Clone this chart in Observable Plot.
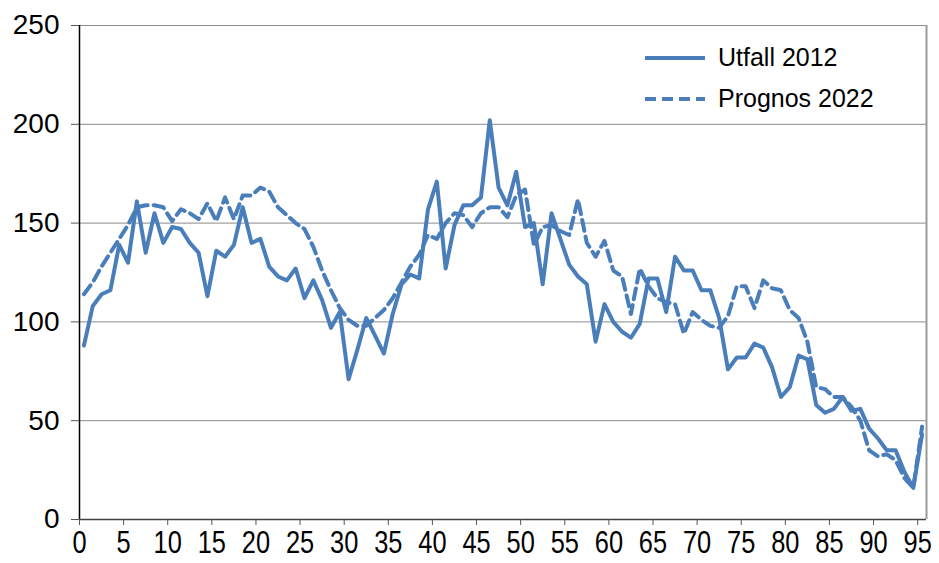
<!DOCTYPE html>
<html>
<head>
<meta charset="utf-8">
<script src="https://cdn.jsdelivr.net/npm/d3@7"></script>
<script src="https://cdn.jsdelivr.net/npm/@observablehq/plot@0.6"></script>
<style>
  body { margin: 0; background: #fff; }
  #wrap { position: relative; width: 939px; height: 563px; font-family: "Liberation Sans", Arial, sans-serif; }
  #legend { position: absolute; left: 645px; top: 37px; font-size: 25px; color: #000; }
  .item { display: flex; align-items: center; height: 41px; }
  .item svg { margin-right: 13px; }
</style>
</head>
<body>
<div id="wrap"><div id="chart"></div><div id="legend"></div></div>
<script>
const ages = [0,1,2,3,4,5,6,7,8,9,10,11,12,13,14,15,16,17,18,19,20,21,22,23,24,25,26,27,28,29,
  30,31,32,33,34,35,36,37,38,39,40,41,42,43,44,45,46,47,48,49,50,51,52,53,54,55,56,57,58,59,
  60,61,62,63,64,65,66,67,68,69,70,71,72,73,74,75,76,77,78,79,80,81,82,83,84,85,86,87,88,89,
  90,91,92,93,94,95];

const utfall2012 = [88,108,114,116,139,130,161,135,155,140,148,147,140,135,113,136,133,139,158,140,
  142,128,123,121,127,112,121,111,97,105,71,86,102,93,84,104,119,124,122,157,
  171,127,149,159,159,163,202,168,159,176,148,150,119,155,142,129,123,119,90,109,
  100,95,92,99,122,122,105,133,126,126,116,116,102,76,82,82,89,87,77,62,
  67,83,81,58,54,56,62,55,56,46,41,35,35,24,16,43];

const prognos2022 = [114,120,128,135,142,149,158,159,159,158,151,157,155,152,160,151,163,152,164,164,
  168,166,158,154,150,147,138,126,116,107,101,98,98,102,106,112,120,128,134,144,
  142,150,155,154,148,155,158,158,153,164,167,139,148,149,146,144,162,140,133,141,
  126,123,104,127,118,112,110,109,94,105,101,98,97,103,118,118,107,121,117,116,
  106,102,90,67,66,62,62,57,50,35,32,33,30,21,16,47];

const seriesNames = ["Utfall 2012", "Prognos 2022"];
const xTicks = [0,5,10,15,20,25,30,35,40,45,50,55,60,65,70,75,80,85,90,95];
const yTicks = [0,50,100,150,200,250];

const blue = "#4a7ebb";
const dash = "11,6";
// category-centred positions (Excel category axis: points sit mid-category)
const pos = (i) => ages[i] + 0.5;

const chart = Plot.plot({
  width: 939,
  height: 563,
  marginLeft: 79,
  marginRight: 13,
  marginTop: 25,
  marginBottom: 44,
  style: { fontFamily: "'Liberation Sans', Arial, sans-serif", background: "#fff", color: "#000" },
  x: { type: "linear", domain: [0, 96] },
  y: { domain: [0, 250] },
  marks: [
    Plot.gridY(yTicks, { stroke: "#8a8a8a", strokeOpacity: 1, strokeWidth: 1 }),
    Plot.ruleX([96], { stroke: "#9a9a9a", strokeWidth: 2 }),
    Plot.line(prognos2022, { x: (d, i) => pos(i), y: d => d, stroke: blue, strokeWidth: 4, strokeDasharray: dash, strokeLinejoin: "round" }),
    Plot.line(utfall2012, { x: (d, i) => pos(i), y: d => d, stroke: blue, strokeWidth: 4, strokeLinejoin: "round" }),
    Plot.ruleX([0], { stroke: "#000", strokeWidth: 1.5 }),
    Plot.ruleY([0], { stroke: "#404040", strokeWidth: 1.5 }),
    Plot.axisY(yTicks, { tickSize: 8, tickPadding: 12, fontSize: 28, stroke: "#555", fill: "#000" }),
    Plot.axisX(xTicks, { tickSize: 6, tickPadding: 5, fontSize: 31, stroke: "#555", fill: "#000" })
  ]
});
document.getElementById("chart").appendChild(chart);

// narrow, tall x tick labels, as in the reference
chart.querySelectorAll('g[aria-label="x-axis tick label"] text').forEach(t => {
  const tr = t.getAttribute("transform") || "";
  t.setAttribute("transform", tr + " scale(0.82,1)");
});

// legend (inside plot area, top right)
const legend = document.getElementById("legend");
seriesNames.forEach((name, k) => {
  const item = document.createElement("div");
  item.className = "item";
  item.innerHTML = `<svg width="60" height="10"><line x1="0" x2="60" y1="5" y2="5" stroke="${blue}" stroke-width="4" ${k === 1 ? `stroke-dasharray="${dash}"` : ''}/></svg><span>${name}</span>`;
  legend.appendChild(item);
});
</script>
</body>
</html>
